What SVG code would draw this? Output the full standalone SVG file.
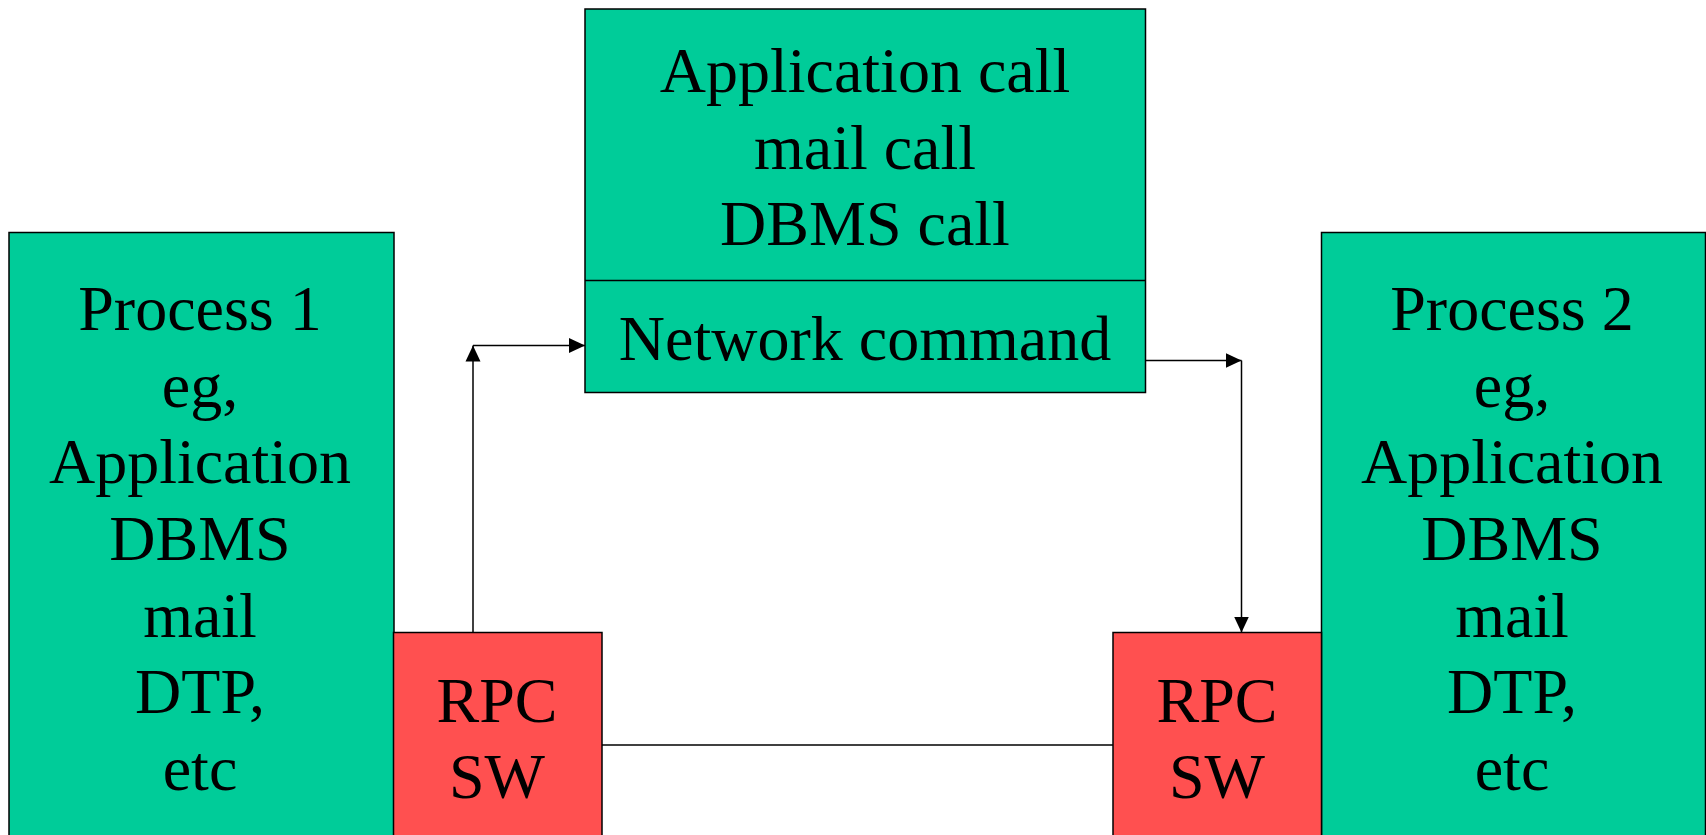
<svg xmlns="http://www.w3.org/2000/svg" width="1706" height="835" viewBox="0 0 1706 835">
<defs>
<style>
.g{fill:#00CC99;stroke:#000;stroke-width:1.5}
.r{fill:#FF5050;stroke:#000;stroke-width:1.5}
.t{font-family:"Liberation Serif","Times New Roman",serif;font-size:64px;fill:#000;text-anchor:middle}
.c{stroke:#000;stroke-width:1.5;fill:none}
</style>
<marker id="ah" markerUnits="userSpaceOnUse" markerWidth="16" markerHeight="16" viewBox="0 0 16 16" refX="16" refY="8" orient="auto">
<path d="M0,0.5 L16,8 L0,15.5 Z" fill="#000"/>
</marker>
</defs>
<rect width="1706" height="835" fill="#fff"/>
<g id="process1">
<rect class="g" x="9" y="232.5" width="385" height="610"/>
<text class="t" x="200"><tspan x="200" y="330">Process 1</tspan><tspan x="200" y="406.5">eg,</tspan><tspan x="200" y="483">Application</tspan><tspan x="200" y="560">DBMS</tspan><tspan x="200" y="636.5">mail</tspan><tspan x="200" y="713">DTP,</tspan><tspan x="200" y="790">etc</tspan></text>
</g>
<g id="process2">
<rect class="g" x="1321.5" y="232.5" width="384" height="610"/>
<text class="t" x="1512"><tspan x="1512" y="330">Process 2</tspan><tspan x="1512" y="406.5">eg,</tspan><tspan x="1512" y="483">Application</tspan><tspan x="1512" y="560">DBMS</tspan><tspan x="1512" y="636.5">mail</tspan><tspan x="1512" y="713">DTP,</tspan><tspan x="1512" y="790">etc</tspan></text>
</g>
<g id="calls">
<rect class="g" x="585" y="9" width="560.5" height="383.5"/>
<line class="c" x1="585" y1="280.5" x2="1145.5" y2="280.5"/>
<text class="t"><tspan x="865" y="92">Application call</tspan><tspan x="865" y="168.5">mail call</tspan><tspan x="865" y="245">DBMS call</tspan><tspan x="865" y="360">Network command</tspan></text>
</g>
<g id="rpc1">
<rect class="r" x="393.5" y="632.5" width="208.5" height="210"/>
<text class="t"><tspan x="497" y="721.5">RPC</tspan><tspan x="497" y="798">SW</tspan></text>
</g>
<g id="rpc2">
<rect class="r" x="1113" y="632.5" width="208.5" height="210"/>
<text class="t"><tspan x="1217" y="721.5">RPC</tspan><tspan x="1217" y="798">SW</tspan></text>
</g>
<g id="connectors">
<line class="c" x1="473" y1="632.5" x2="473" y2="345.5" marker-end="url(#ah)"/>
<line class="c" x1="473" y1="345.5" x2="585" y2="345.5" marker-end="url(#ah)"/>
<line class="c" x1="1145.5" y1="360.5" x2="1241.5" y2="360.5" marker-end="url(#ah)"/>
<line class="c" x1="1241.5" y1="360.5" x2="1241.5" y2="632.5" marker-end="url(#ah)"/>
<line class="c" x1="602" y1="745" x2="1113" y2="745"/>
</g>
</svg>
